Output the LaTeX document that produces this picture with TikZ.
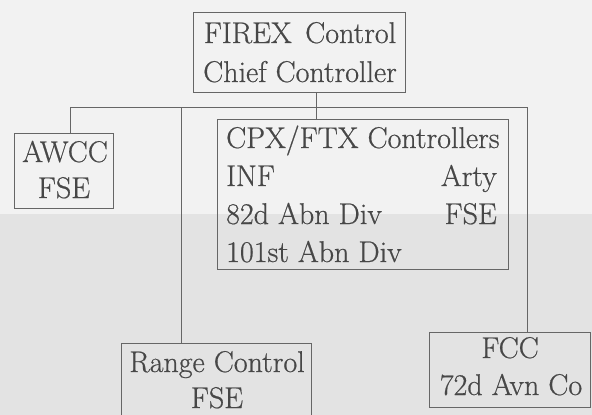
\documentclass[tikz,border=0pt]{standalone}
\usepackage{fontspec}
\newfontfamily\scanfont{Latin Modern Roman}[FakeBold=0.6]
\begin{document}
\begin{tikzpicture}[x=1pt,y=-1pt,
  boxline/.style={draw=black!60,line width=0.9pt},
  boxnode/.style={boxline,anchor=north west,inner sep=0pt,outer sep=0pt},
  lbl/.style={text=black!72,inner sep=0pt,anchor=base,font=\scanfont\fontsize{30}{36}\selectfont},
  conn/.style={draw=black!60,line width=0.9pt}]
\useasboundingbox (0,0) rectangle (592,415);
\fill[black!5] (0,0) rectangle (592,214);
\fill[black!11] (0,214) rectangle (592,415);
% boxes
\node[boxnode,minimum width=212pt,minimum height=80pt] (firex) at (193,12) {};
\node[boxnode,minimum width=99pt,minimum height=75pt] (awcc) at (14,133) {};
\node[boxnode,minimum width=291pt,minimum height=150pt] (cpx) at (217,119) {};
\node[boxnode,minimum width=190pt,minimum height=90pt] (range) at (121,343) {};
\node[boxnode,minimum width=161pt,minimum height=75pt] (fcc) at (429,332) {};
% texts
\node[lbl] (t1) at (300,43) {FIREX\hspace{0.45em}Control};
\node[lbl] (t2) at (300,82) {Chief Controller};
\node[lbl] (t3) at (65,162) {AWCC};
\node[lbl] (t4) at (64,198) {FSE};
\node[lbl,anchor=base west] (t5) at (226,148) {CPX/FTX Controllers};
\node[lbl,anchor=base west] (t6) at (226,186) {INF};
\node[lbl,anchor=base east] (t7) at (497,186) {Arty};
\node[lbl,anchor=base west] (t8) at (226,224) {82d Abn Div};
\node[lbl,anchor=base east] (t9) at (497,224) {FSE};
\node[lbl,anchor=base west] (t10) at (226,262) {101st Abn Div};
\node[lbl] (t11) at (217,372) {Range Control};
\node[lbl] (t12) at (217,408) {FSE};
\node[lbl] (t13) at (510,358) {FCC};
\node[lbl] (t14) at (511,395) {72d Avn Co};
% connectors
\coordinate (busL) at (70,107);
\coordinate (busM) at (316,107);
\coordinate (busR) at (527,107);
\coordinate (busR2) at (181,107);
\draw[conn] (firex.south -| busM) -- (cpx.north -| busM);
\draw[conn] (awcc.north -| busL) -- (busL) -- (busR) -- (fcc.north -| busR);
\draw[conn] (busR2) -- (range.north -| busR2);
\end{tikzpicture}
\end{document}
